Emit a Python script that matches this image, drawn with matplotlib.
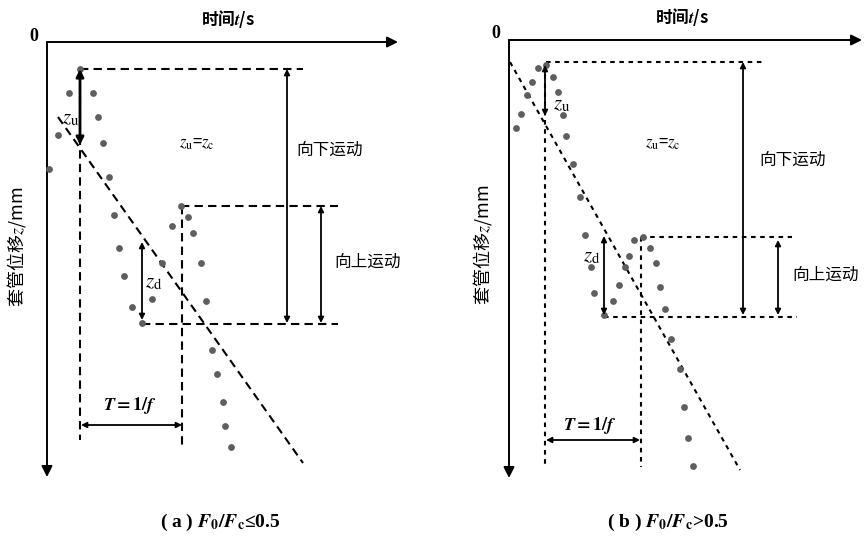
import matplotlib
matplotlib.use('Agg')
import matplotlib.pyplot as plt

plt.rcParams['font.family'] = ['Noto Sans CJK SC', 'DejaVu Sans']
plt.rcParams['mathtext.fontset'] = 'stix'

# measured displacement points (t, z) relative to axis origin, z positive downward
a_t = [33, 22, 46, 51, 11, 56, 2, 62, 67, 134, 141, 125, 146, 72, 115, 154, 77,
       105, 159, 85, 95, 165, 170, 176, 178, 184]
a_z = [27, 51, 51, 75, 93, 101, 127, 135, 173, 164, 175, 184, 191, 206, 221, 221,
       234, 257, 259, 265, 281, 308, 332, 360, 384, 405]

b_t = [37, 29, 44, 23, 49, 18, 12, 54, 7, 57, 64, 71, 76, 125, 134, 141, 120, 82,
       147, 116, 110, 151, 85, 104, 156, 95, 162, 171, 175, 179, 184]
b_z = [25, 28, 37, 42, 52, 55, 74, 75, 88, 96, 124, 157, 195, 200, 197, 208, 216,
       227, 223, 227, 245, 247, 253, 261, 269, 275, 299, 329, 367, 398, 426]

# casing trend line (start, end)
a_trend_t = [11, 256]
a_trend_z = [75, 421]
b_trend_t = [1, 231]
b_trend_z = [22, 430]

dot_color = '#5e5e5e'

fig = plt.figure(figsize=(8.66, 5.42), dpi=100)
ax_a = fig.add_axes([0, 0, 433 / 866, 1])
ax_b = fig.add_axes([433 / 866, 0, 433 / 866, 1])
ax_a.set_xlim(-47, 386)
ax_a.set_ylim(500, -42)
ax_b.set_xlim(-76, 357)
ax_b.set_ylim(502, -40)


def arrow(ax, p0, p1, style='<|-|>', lw=1.3, ms=8):
    ax.annotate('', xy=p1, xytext=p0,
                arrowprops=dict(arrowstyle=style, lw=lw, color='k',
                                mutation_scale=ms, shrinkA=0, shrinkB=0))


def draw_panel(ax, t, z, tr_t, tr_z, g, dash, xend, yend, ylab_x, title_x):
    ax.axis('off')
    # axes
    arrow(ax, (0, 0), (xend, 0), style='-|>', lw=1.4, ms=16)
    arrow(ax, (0, 0), (0, yend), style='-|>', lw=1.4, ms=16)
    ax.text(-9, -6, '0', ha='right', va='center', fontsize=13, fontweight='bold',
            family='Liberation Serif')
    ax.text(title_x, -23, '时间$\\mathbfit{t}$/s', ha='center', va='center',
            fontsize=12, fontweight='bold')
    ax.text(ylab_x, 205, '套管位移$z$/mm', ha='center', va='center',
            rotation=90, fontsize=13)

    # trend line and data points
    ax.plot(tr_t, tr_z, color='k', lw=1.5, dashes=dash)
    ax.scatter(t, z, s=24, color=dot_color, zorder=3, linewidths=0)

    # guide lines
    v1, v2, h1, h2, h3 = g['v1'], g['v2'], g['h1'], g['h2'], g['h3']
    ax.plot([v1[0], v1[0]], [v1[1], v1[2]], color='k', lw=1.5, dashes=dash)
    ax.plot([v2[0], v2[0]], [v2[1], v2[2]], color='k', lw=1.5, dashes=dash)
    ax.plot([h1[1], h1[2]], [h1[0], h1[0]], color='k', lw=1.5, dashes=dash)
    ax.plot([h2[1], h2[2]], [h2[0], h2[0]], color='k', lw=1.5, dashes=dash)
    ax.plot([h3[1], h3[2]], [h3[0], h3[0]], color='k', lw=1.5, dashes=dash)

    # dimension arrows
    zu, zd, dn, up, per = g['zu'], g['zd'], g['down'], g['up'], g['T']
    arrow(ax, (zu[0], zu[1]), (zu[0], zu[2]), lw=g['zu_lw'], ms=g['zu_ms'])
    arrow(ax, (zd[0], zd[1]), (zd[0], zd[2]))
    arrow(ax, (dn[0], dn[1]), (dn[0], dn[2]))
    arrow(ax, (up[0], up[1]), (up[0], up[2]))
    arrow(ax, (per[1], per[0]), (per[2], per[0]))

    # labels
    lab = g['labels']
    ax.text(*lab['zu'], '$z_\\mathrm{u}$', ha='center', va='center', fontsize=15)
    ax.text(*lab['zd'], '$z_\\mathrm{d}$', ha='center', va='center', fontsize=15)
    ax.text(*lab['zc'], '$z_\\mathrm{u}$=$z_\\mathrm{c}$', ha='center', va='center',
            fontsize=12)
    ax.text(*lab['down'], '向下运动', ha='center', va='center', fontsize=12)
    ax.text(*lab['up'], '向上运动', ha='center', va='center', fontsize=12)
    ax.text(*lab['T'], '$\\mathbfit{T}\\mathbf{=1/}\\mathbfit{f}$', ha='center',
            va='center', fontsize=13)


guides_a = dict(v1=(33, 27, 398), v2=(135, 164, 405), h1=(27, 33, 256),
                h2=(164, 134, 291), h3=(282, 95, 291),
                zu=(33, 27, 103), zd=(95, 200, 278), down=(240, 27, 281),
                up=(274, 164, 281), T=(383, 34, 135), zu_lw=2.0, zu_ms=11,
                labels=dict(zu=(24, 75), zd=(107, 239), zc=(150, 101),
                            down=(283, 108), up=(321, 220), T=(83, 363)))
guides_b = dict(v1=(36, 25, 427), v2=(132, 197, 427), h1=(22, 37, 253),
                h2=(197, 132, 283), h3=(277, 95, 288),
                zu=(36, 25, 76), zd=(95, 196, 275), down=(234, 22, 275),
                up=(269, 200, 275), T=(400, 37, 131), zu_lw=1.3, zu_ms=8,
                labels=dict(zu=(53, 63), zd=(83, 215), zc=(154, 103),
                            down=(284, 120), up=(317, 235), T=(81, 386)))

draw_panel(ax_a, a_t, a_z, a_trend_t, a_trend_z, guides_a, (4, 2.5), 351, 435, -30, 181)
draw_panel(ax_b, b_t, b_z, b_trend_t, b_trend_z, guides_b, (2.2, 2.2), 353, 438, -26, 173)

fig.text(220 / 866, 1 - 522 / 542,
         '( a ) $\\mathbfit{F}_\\mathbf{0}\\mathbf{/}\\mathbfit{F}_\\mathbf{c}$≤0.5',
         ha='center', va='center', fontsize=14, fontweight='bold',
         family=['Liberation Serif', 'DejaVu Sans'])
fig.text(668 / 866, 1 - 522 / 542,
         '( b ) $\\mathbfit{F}_\\mathbf{0}\\mathbf{/}\\mathbfit{F}_\\mathbf{c}$>0.5',
         ha='center', va='center', fontsize=14, fontweight='bold',
         family=['Liberation Serif', 'DejaVu Sans'])

fig.savefig('out.png', dpi=100, facecolor='white')
